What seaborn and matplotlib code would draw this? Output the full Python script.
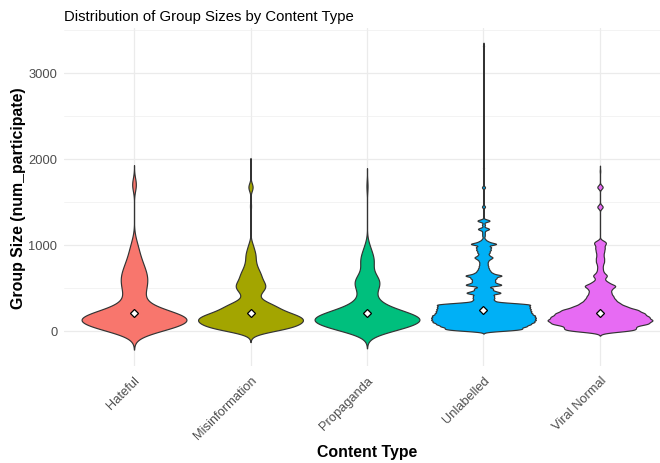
import numpy as np
import pandas as pd
import matplotlib
matplotlib.use("Agg")
import matplotlib.pyplot as plt
from matplotlib.ticker import MultipleLocator
import seaborn as sns

# categorias e cores (paleta padrao do ggplot)
categories = ["Hateful", "Misinformation", "Propaganda", "Unlabelled", "Viral Normal"]
colors = ["#F8766D", "#A3A500", "#00BF7D", "#00B0F6", "#E76BF3"]

# tamanhos de grupo e quantos grupos tem cada tamanho
hateful_sizes = [5, 50, 100, 150, 200, 250, 300, 350, 400, 450, 500, 550, 600, 650,
                 700, 750, 800, 850, 900, 950, 1000, 1050, 1100, 1700]
hateful_counts = [150, 200, 270, 300, 210, 110, 60, 45, 45, 50, 55, 60, 62, 60,
                  52, 45, 38, 30, 24, 22, 16, 10, 5, 30]

misinfo_sizes = [5, 40, 80, 120, 160, 200, 240, 280, 320, 360, 400, 440, 480, 520, 560,
                 600, 640, 680, 720, 760, 800, 840, 880, 920, 960, 1000, 1040, 1450, 1670, 1870]
misinfo_counts = [120, 180, 200, 230, 220, 170, 110, 120, 80, 35, 30, 40, 60, 70, 55,
                  45, 45, 40, 30, 25, 22, 18, 25, 16, 14, 10, 4, 6, 24, 3]

propaganda_sizes = [5, 50, 100, 150, 200, 250, 300, 350, 400, 450, 500, 550, 600, 650,
                    700, 750, 800, 850, 900, 950, 1000, 1050, 1680]
propaganda_counts = [130, 190, 250, 280, 200, 110, 70, 45, 35, 35, 50, 65, 60, 35,
                     20, 22, 38, 30, 22, 18, 10, 3, 8]

unlabelled_sizes = [5, 25, 50, 75, 100, 125, 150, 175, 200, 225, 250, 275, 300, 320,
                    350, 378, 405, 438, 462, 490, 531, 556, 582, 610, 640, 668, 695, 722,
                    750, 778, 805, 830, 853, 880, 910, 940, 970, 1008, 1035, 1062, 1100,
                    1125, 1150, 1183, 1230, 1279, 1442, 1667, 1890, 3310]
unlabelled_counts = [40, 55, 66, 72, 78, 80, 80, 79, 74, 73, 72, 71, 70, 40,
                     18, 18, 18, 30, 16, 17, 32, 18, 19, 22, 33, 15, 11, 9,
                     8, 7, 7, 9, 15, 9, 11, 13, 14, 24, 8, 3, 2,
                     2, 2, 11, 3, 12, 3, 3, 1, 1]

viral_sizes = [5, 40, 80, 120, 160, 200, 240, 280, 320, 360, 400, 440, 480, 520, 560,
               600, 640, 680, 720, 760, 800, 840, 880, 920, 960, 1000, 1030, 1440, 1670, 1856]
viral_counts = [96, 90, 140, 152, 140, 128, 110, 76, 56, 44, 38, 32, 32, 48, 24,
                12, 22, 10, 8, 8, 12, 12, 10, 12, 14, 12, 16, 10, 10, 1]

# largura de banda do kde (em participantes) para cada grupo
bandwidths = [75, 46, 70, 13, 21]

all_sizes = [hateful_sizes, misinfo_sizes, propaganda_sizes, unlabelled_sizes, viral_sizes]
all_counts = [hateful_counts, misinfo_counts, propaganda_counts, unlabelled_counts, viral_counts]

frames = []
for cat, sizes, counts in zip(categories, all_sizes, all_counts):
    frames.append(pd.DataFrame({"content_type": cat,
                                "num_participate": np.repeat(sizes, counts)}))
df = pd.concat(frames, ignore_index=True)

sns.set_style("white")
plt.rcParams["font.family"] = ["Liberation Sans", "DejaVu Sans"]

fig = plt.figure(figsize=(6.6, 4.64), dpi=100)
ax = fig.add_axes([64 / 660, 97 / 464, 606 / 660, 337.6 / 464])

for cat, col, bw in zip(categories, colors, bandwidths):
    sub = df[df["content_type"] == cat]
    sd = sub["num_participate"].std()
    sns.violinplot(data=sub, x="content_type", y="num_participate", order=categories,
                   color=col, saturation=1, inner=None, cut=3, width=0.9,
                   density_norm="width", gridsize=1500, bw_method=bw / sd,
                   linewidth=0.85, linecolor="#333333", ax=ax)

# mediana como losango branco
sns.pointplot(data=df, x="content_type", y="num_participate", order=categories,
              estimator="median", errorbar=None, markers="D", linestyles="none",
              color="white", markeredgecolor="black", markersize=4.5,
              markeredgewidth=0.9, ax=ax)

ax.set_xlim(-0.601, 4.601)
ax.set_ylim(-411, 3515)
ax.yaxis.set_major_locator(MultipleLocator(1000))
ax.yaxis.set_minor_locator(MultipleLocator(500))
ax.set_axisbelow(True)
ax.grid(True, which="major", color="#EBEBEB", linewidth=0.9)
ax.grid(True, which="minor", axis="y", color="#EFEFEF", linewidth=0.5)
for s in ax.spines.values():
    s.set_visible(False)

ax.tick_params(axis="both", which="both", length=0, colors="#4D4D4D", labelsize=9.3)
ax.tick_params(axis="x", pad=5.5)
ax.tick_params(axis="y", pad=4.8)
plt.setp(ax.get_xticklabels(), rotation=45, ha="right", rotation_mode="anchor")

ax.set_xlabel("Content Type", fontsize=11.4, fontweight="bold", color="black")
ax.xaxis.set_label_coords(0.5, -0.232)
ax.set_ylabel("Group Size (num_participate)", fontsize=11.4, fontweight="bold", color="black")
ax.yaxis.set_label_coords(-0.0627, 0.5)

fig.text(64 / 660, 1 - 16.6 / 464, "Distribution of Group Sizes by Content Type",
         ha="left", va="center", fontsize=10.7, color="black")

plt.savefig("out.png", dpi=100)
